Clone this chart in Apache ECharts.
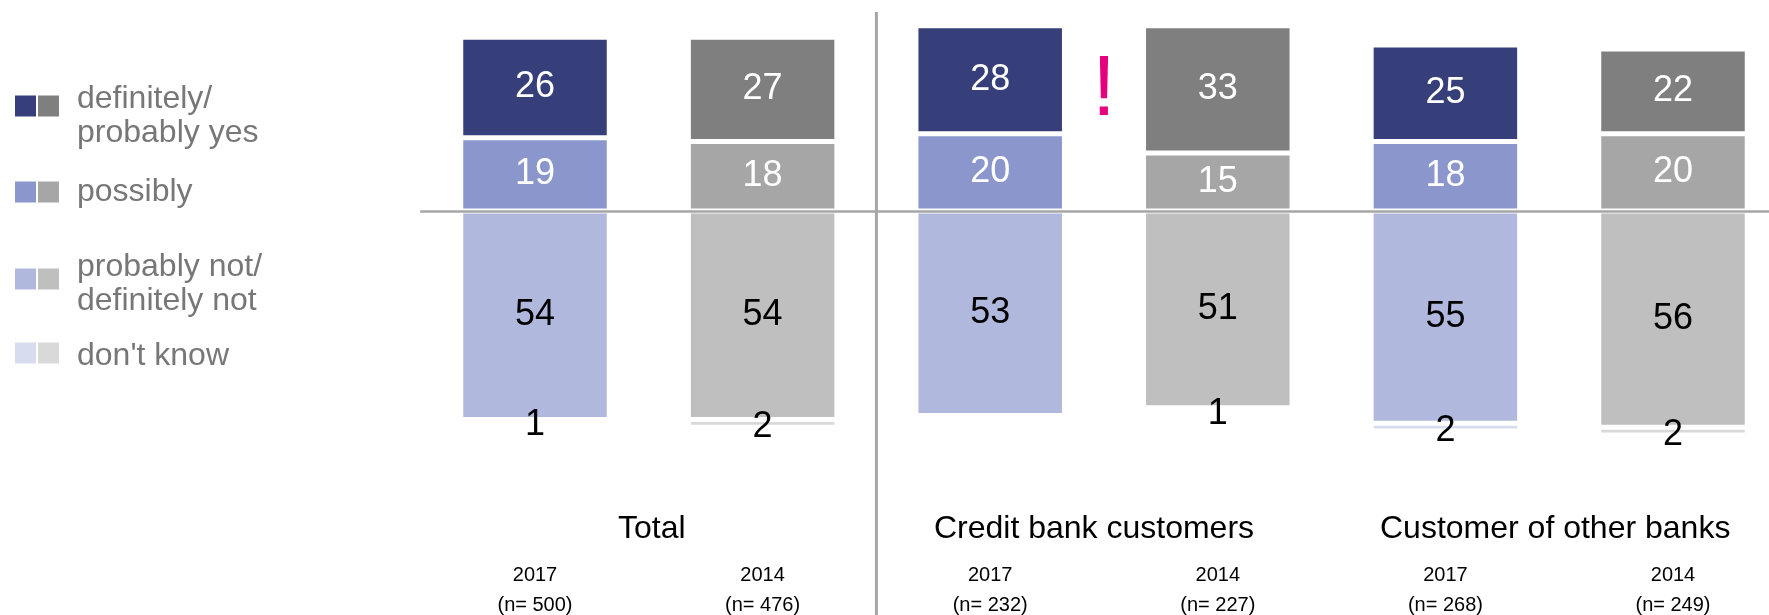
<!DOCTYPE html>
<html><head><meta charset="utf-8">
<script src="https://cdn.jsdelivr.net/npm/echarts@6/dist/echarts.min.js"></script>
<style>html,body{margin:0;padding:0;background:#fff}#c{width:1769px;height:615px}</style>
</head><body><div id="c"></div>
<script>
// ---- data ----
const categories = ['Total 2017', 'Total 2014', 'Credit 2017', 'Credit 2014', 'Other 2017', 'Other 2014'];
const yearLabels = ['2017', '2014', '2017', '2014', '2017', '2014'];
const sampleSizes = ['(n= 500)', '(n= 476)', '(n= 232)', '(n= 227)', '(n= 268)', '(n= 249)'];
const groupLabels = ['Total', 'Credit bank customers', 'Customer of other banks'];
const yesValues = [26, 27, 28, 33, 25, 22];
const possiblyValues = [19, 18, 20, 15, 18, 20];
const notValues = [54, 54, 53, 51, 55, 56];
const dkValues = [1, 2, 0, 1, 2, 2];
const legendLabels = ['definitely/\nprobably yes', 'possibly', 'probably not/\ndefinitely not', "don't know"];

// ---- styles ----
const FONT = '"Liberation Sans", Arial, sans-serif';
const blue = ['#363f7a', '#8b97cc', '#b0b8de', '#d7dcef'];
const grey = ['#7f7f7f', '#a6a6a6', '#bfbfbf', '#d9d9d9'];

function mk(name, vals, sign, ci, labelColor, offY) {
  return {
    name: name, type: 'bar', stack: 's', barWidth: 148.5,
    data: vals.map(v => sign * v),
    itemStyle: {
      color: p => (p.dataIndex % 2 === 0 ? blue : grey)[ci],
      borderColor: '#fff', borderWidth: 2.5
    },
    label: {
      show: true, position: 'inside',
      formatter: p => p.value === 0 ? '' : String(Math.abs(p.value)),
      color: labelColor, fontSize: 36, fontFamily: FONT, offset: [0, offY]
    },
    emphasis: { disabled: true },
    silent: true
  };
}

const chart = echarts.init(document.getElementById('c'), null, { renderer: 'canvas' });
const option = {
  animation: false,
  backgroundColor: '#fff',
  grid: { left: 421.2, width: 1365.6, top: 18, height: 424.6, containLabel: false, outerBoundsMode: 'none' },
  xAxis: [
    {
      type: 'category', data: categories, position: 'top', z: 10,
      axisLine: { show: true, onZero: true, lineStyle: { color: '#a6a6a6', width: 2.5 } },
      axisTick: { show: false }, axisLabel: { show: false }, splitLine: { show: false }
    },
    {
      type: 'category', data: categories, position: 'bottom',
      axisLine: { show: false, onZero: false }, axisTick: { show: false }, splitLine: { show: false },
      axisLabel: {
        margin: 118, fontSize: 20, lineHeight: 30, color: '#000', fontFamily: FONT,
        formatter: (v, i) => yearLabels[i] + '\n' + sampleSizes[i]
      }
    }
  ],
  yAxis: { type: 'value', min: -60, max: 50, show: false, splitLine: { show: false } },
  series: [
    mk('possibly', possiblyValues, 1, 1, '#fff', 0),
    mk('definitely/probably yes', yesValues, 1, 0, '#fff', 0),
    mk('probably not/definitely not', notValues, -1, 2, '#000', 0),
    mk("don't know", dkValues, -1, 3, '#000', 4)
  ]
};
chart.setOption(option);

// ---- decorations ----
const graphics = [];
// legend
const sqCenters = [106, 192, 279, 353];
const txtCenters = [116, 192, 284, 356];
legendLabels.forEach((lab, i) => {
  graphics.push({ type: 'rect', shape: { x: 15, y: sqCenters[i] - 10.5, width: 21, height: 21 }, style: { fill: blue[i] } });
  graphics.push({ type: 'rect', shape: { x: 38, y: sqCenters[i] - 10.5, width: 21, height: 21 }, style: { fill: grey[i] } });
  graphics.push({
    type: 'text', x: 77, y: txtCenters[i],
    style: { text: lab, fontSize: 32, lineHeight: 34, fontFamily: FONT, fill: '#777777', verticalAlign: 'middle', align: 'left' }
  });
});
// separator between Total and the sub-groups (category boundary)
const px = i => chart.convertToPixel({ xAxisIndex: 0 }, i);
const sepX = (px(1) + px(2)) / 2;
graphics.push({ type: 'line', shape: { x1: sepX, y1: 12, x2: sepX, y2: 615 }, style: { stroke: '#a6a6a6', lineWidth: 3 } });
// group labels (slight per-label nudges as in the source layout)
const groupNudge = [3, -10, -4];
groupLabels.forEach((g, k) => {
  const cx = (px(2 * k) + px(2 * k + 1)) / 2 + groupNudge[k];
  graphics.push({
    type: 'text', x: cx, y: 529,
    style: { text: g, fontSize: 32, fontFamily: FONT, fill: '#000', align: 'center', verticalAlign: 'middle' }
  });
});
// exclamation mark between credit-bank bars
graphics.push({
  type: 'text', x: (px(2) + px(3)) / 2, y: 91,
  style: { text: '!', fontSize: 86, fontFamily: FONT, fill: '#e5007e', align: 'center', verticalAlign: 'middle' }
});
chart.setOption({ graphic: graphics });
</script>
</body></html>
